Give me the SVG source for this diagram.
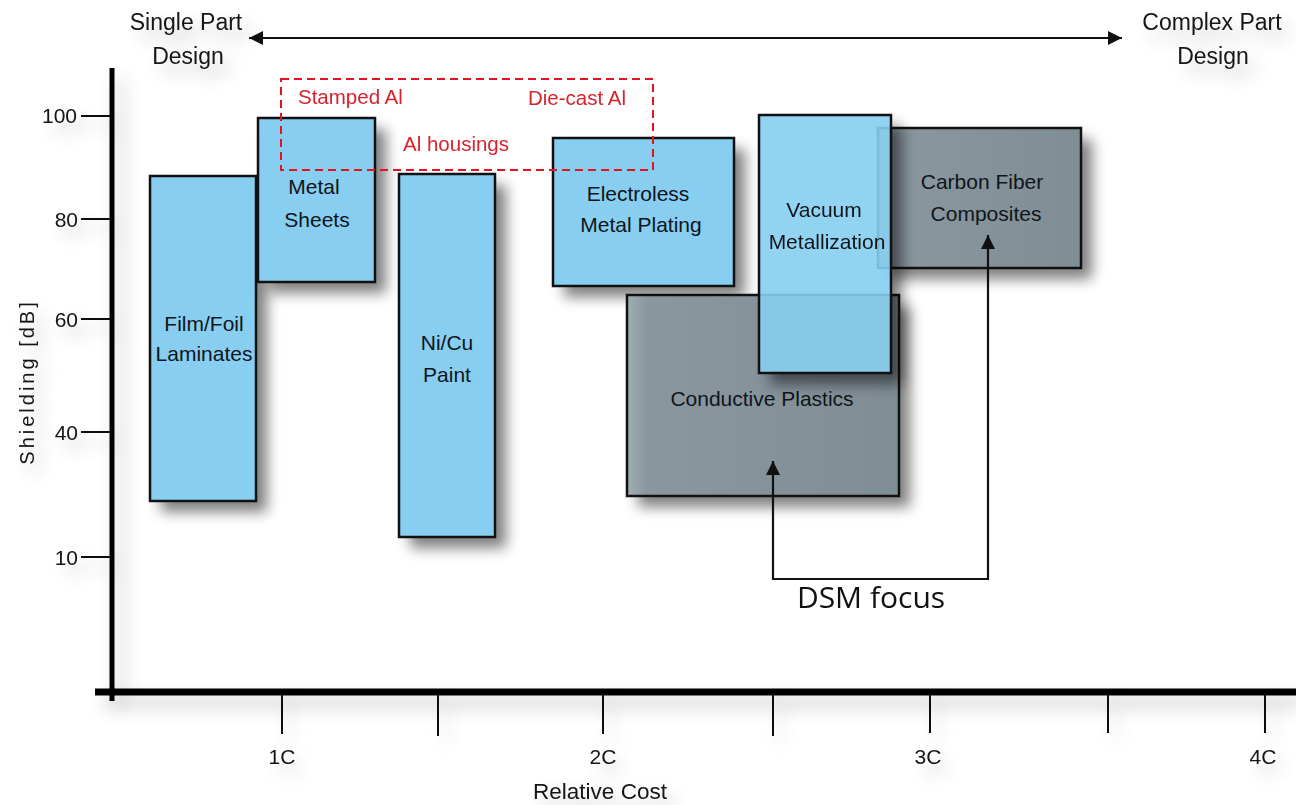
<svg xmlns="http://www.w3.org/2000/svg" width="1296" height="805" viewBox="0 0 1296 805">
  <defs>
    <style>
      .lbl { font-family: "Liberation Sans", Arial, sans-serif; fill: #141414; }
      .box-text { font-size: 21px; text-anchor: middle; fill: #10151a; }
      .tick-text { font-size: 21px; text-anchor: end; }
      .cost-text { font-size: 21px; text-anchor: middle; }
      .head-text { font-size: 23px; text-anchor: middle; }
      .red-text { font-family: "Liberation Sans", Arial, sans-serif; font-size: 20.5px; fill: #d8232c; }
      .blue { fill: #87cef1; stroke: #111; stroke-width: 2.5; }
      .gray { fill: url(#grayFill); stroke: #111; stroke-width: 2.5; }
      .shadow { fill: #000; opacity: 0.5; filter: url(#soft); }
      .tick { stroke: #111; stroke-width: 2; }
      .conn { fill: none; stroke: #111; stroke-width: 2.2; }
    </style>
    <linearGradient id="grayFill" x1="0" y1="0" x2="1" y2="0">
      <stop offset="0" stop-color="#a2aeb5"/>
      <stop offset="0.07" stop-color="#8a979f"/>
      <stop offset="1" stop-color="#7f8d95"/>
    </linearGradient>
    <filter id="soft" x="-30%" y="-30%" width="160%" height="160%">
      <feGaussianBlur stdDeviation="7"/>
    </filter>
    <filter id="haze" x="-30%" y="-60%" width="160%" height="220%">
      <feGaussianBlur in="SourceAlpha" stdDeviation="9"/>
      <feOffset dx="8" dy="10"/>
      <feComponentTransfer><feFuncA type="linear" slope="0.25"/></feComponentTransfer>
      <feMerge><feMergeNode/><feMergeNode in="SourceGraphic"/></feMerge>
    </filter>
    <clipPath id="vacuumOutside">
      <path clip-rule="evenodd" d="M0 0H1296V805H0Z M759 115V373H891V115Z"/>
    </clipPath>
    <marker id="arrow" markerUnits="userSpaceOnUse" markerWidth="16" markerHeight="16" refX="14" refY="7" orient="auto-start-reverse">
      <path d="M0 0L14 7L0 14Z" fill="#111"/>
    </marker>
  </defs>

  <rect width="1296" height="805" fill="#fff"/>

  <!-- axes, ticks and scale labels -->
  <g id="axes" filter="url(#haze)">
    <line x1="112" y1="68" x2="112" y2="701" stroke="#000" stroke-width="5"/>
    <line x1="95" y1="692" x2="1296" y2="692" stroke="#000" stroke-width="7"/>
    <line class="tick" x1="81" y1="116" x2="110" y2="116"/>
    <line class="tick" x1="81" y1="219" x2="110" y2="219"/>
    <line class="tick" x1="81" y1="319" x2="110" y2="319"/>
    <line class="tick" x1="81" y1="432" x2="110" y2="432"/>
    <line class="tick" x1="81" y1="557" x2="110" y2="557"/>
    <line class="tick" x1="282" y1="695" x2="282" y2="734"/>
    <line class="tick" x1="438" y1="695" x2="438" y2="736"/>
    <line class="tick" x1="603" y1="695" x2="603" y2="734"/>
    <line class="tick" x1="773" y1="695" x2="773" y2="736"/>
    <line class="tick" x1="930" y1="695" x2="930" y2="733"/>
    <line class="tick" x1="1108" y1="695" x2="1108" y2="733"/>
    <line class="tick" x1="1265" y1="695" x2="1265" y2="733"/>
    <text class="lbl tick-text" x="77" y="123">100</text>
    <text class="lbl tick-text" x="78" y="227">80</text>
    <text class="lbl tick-text" x="78" y="327">60</text>
    <text class="lbl tick-text" x="78" y="440">40</text>
    <text class="lbl tick-text" x="78" y="565">10</text>
    <text class="lbl cost-text" x="282" y="764">1C</text>
    <text class="lbl cost-text" x="603" y="764">2C</text>
    <text class="lbl cost-text" x="928" y="764">3C</text>
    <text class="lbl cost-text" x="1263" y="764">4C</text>
    <text class="lbl" font-size="22.5" text-anchor="middle" x="600" y="799">Relative Cost</text>
    <text class="lbl" font-size="20" letter-spacing="3" text-anchor="middle" transform="translate(34 382) rotate(-90)">Shielding [dB]</text>
  </g>

  <!-- design complexity scale along the top -->
  <g id="design-scale" filter="url(#haze)">
    <text class="lbl head-text" x="186" y="30">Single Part</text>
    <text class="lbl head-text" x="188" y="64">Design</text>
    <text class="lbl head-text" x="1212" y="30">Complex Part</text>
    <text class="lbl head-text" x="1213" y="64">Design</text>
  </g>

  <!-- process nodes -->
  <g id="film-foil">
    <rect class="shadow" x="161" y="187" width="106" height="325"/>
    <rect class="blue" x="150" y="176" width="106" height="325"/>
    <text class="lbl box-text" x="204" y="331">Film/Foil</text>
    <text class="lbl box-text" x="204" y="361">Laminates</text>
  </g>
  <g id="metal-sheets">
    <rect class="shadow" x="269" y="129" width="117" height="164"/>
    <rect class="blue" x="258" y="118" width="117" height="164"/>
    <text class="lbl box-text" x="314" y="194">Metal</text>
    <text class="lbl box-text" x="317" y="227">Sheets</text>
  </g>
  <g id="ni-cu-paint">
    <rect class="shadow" x="410" y="185" width="96" height="363"/>
    <rect class="blue" x="399" y="174" width="96" height="363"/>
    <text class="lbl box-text" x="447" y="350">Ni/Cu</text>
    <text class="lbl box-text" x="447" y="382">Paint</text>
  </g>
  <g id="electroless">
    <rect class="shadow" x="564" y="149" width="181" height="148"/>
    <rect class="blue" x="553" y="138" width="181" height="148"/>
    <text class="lbl box-text" x="638" y="201">Electroless</text>
    <text class="lbl box-text" x="641" y="232">Metal Plating</text>
  </g>
  <g id="conductive-plastics">
    <rect class="shadow" x="638" y="306" width="272" height="201"/>
    <rect class="gray" x="627" y="295" width="272" height="201"/>
    <text class="lbl box-text" x="762" y="406">Conductive Plastics</text>
  </g>
  <g id="carbon-fiber">
    <rect class="shadow" x="889" y="139" width="203" height="140"/>
    <rect class="gray" x="878" y="128" width="203" height="140"/>
    <text class="lbl box-text" x="982" y="189">Carbon Fiber</text>
    <text class="lbl box-text" x="986" y="221">Composites</text>
  </g>
  <g id="vacuum-metallization">
    <g clip-path="url(#vacuumOutside)">
      <rect class="shadow" x="770" y="126" width="132" height="258"/>
    </g>
    <rect class="blue" x="759" y="115" width="132" height="258" fill-opacity="0.9"/>
    <text class="lbl box-text" x="824" y="217">Vacuum</text>
    <text class="lbl box-text" x="827" y="249">Metallization</text>
  </g>

  <!-- aluminium housings region -->
  <g id="al-housings">
    <rect x="281" y="79" width="372" height="91" fill="none" stroke="#e3141f" stroke-width="2" stroke-dasharray="8 5"/>
    <text class="red-text" x="298" y="104">Stamped Al</text>
    <text class="red-text" x="528" y="105">Die-cast Al</text>
    <text class="red-text" x="403" y="151">Al housings</text>
  </g>

  <!-- connectors -->
  <g id="connectors">
    <line class="conn" x1="1122" y1="38" x2="249" y2="38" marker-start="url(#arrow)" marker-end="url(#arrow)"/>
    <path class="conn" d="M773 461V579H988V235" marker-start="url(#arrow)" marker-end="url(#arrow)"/>
  </g>

  <g id="dsm-focus">
    <text x="871" y="608" font-family="'Open Sans', 'Noto Sans', sans-serif" font-size="30" text-anchor="middle" fill="#111">DSM focus</text>
  </g>
</svg>
